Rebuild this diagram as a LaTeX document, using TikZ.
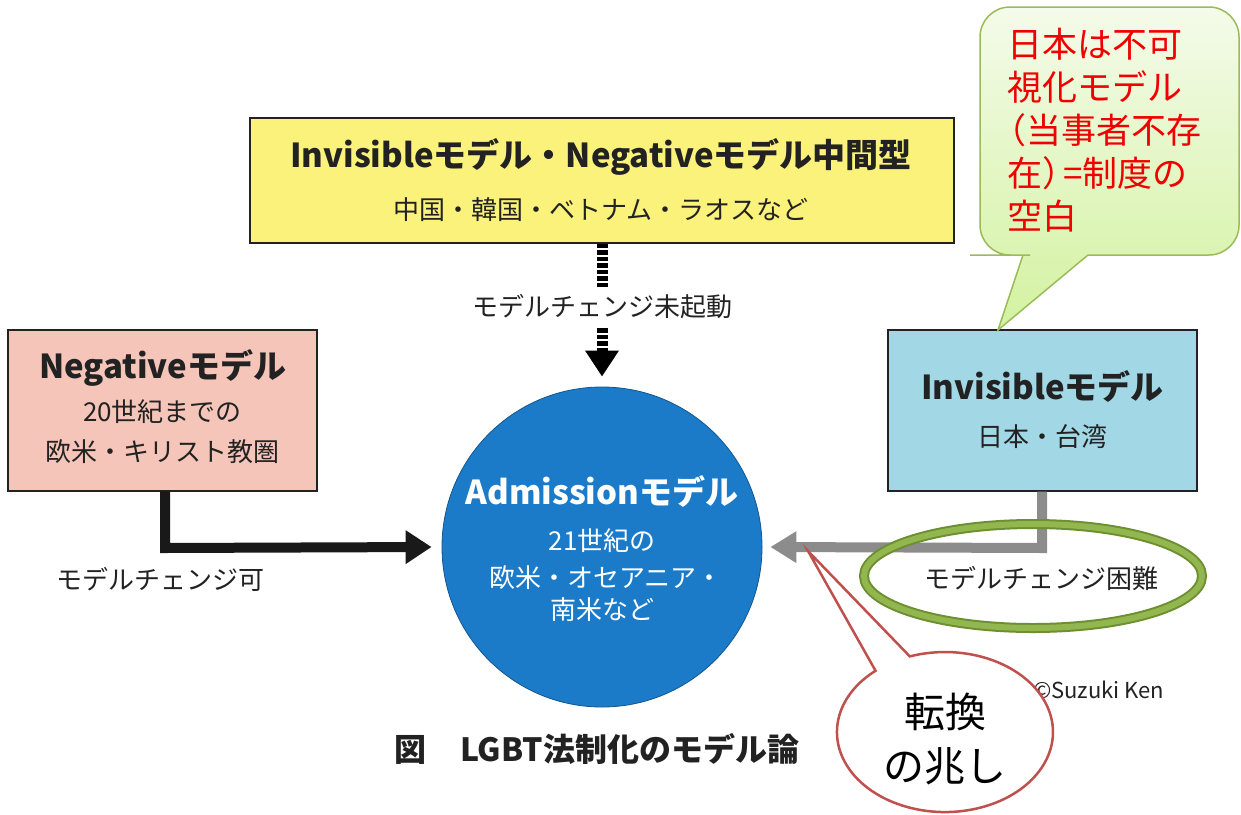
\documentclass[tikz,border=0pt]{standalone}
\usepackage{fontspec}
\setmainfont{Noto Sans CJK JP}
\usetikzlibrary{arrows.meta,calc}
\definecolor{yel}{HTML}{FAF27A}
\definecolor{pnk}{HTML}{F6C5B9}
\definecolor{lblue}{HTML}{A2D8E6}
\definecolor{cblue}{HTML}{1B7BC9}
\definecolor{garrow}{HTML}{8C8C8C}
\definecolor{gring}{HTML}{93B74F}
\definecolor{gringd}{HTML}{6E8E32}
\definecolor{gbord}{HTML}{9BBB59}
\definecolor{gtop}{HTML}{F4FBEA}
\definecolor{gbot}{HTML}{D3F2A0}
\definecolor{rbord}{HTML}{C0504D}
\definecolor{txt}{HTML}{222222}
\definecolor{redtxt}{HTML}{F00000}
\tikzset{
  mbox/.style={draw=txt, line width=1.3pt, inner sep=0pt},
  ttl/.style={font=\fontsize{33}{40}\selectfont\bfseries, text=txt, inner sep=0pt},
  sub/.style={font=\fontsize{26}{32}\selectfont, text=txt, inner sep=0pt},
  lbl/.style={font=\fontsize{26}{32}\selectfont, text=txt, inner sep=0pt},
  wtxt/.style={text=white},
  bigarrow/.style={line width=10pt, -{Triangle[width=32pt,length=26pt]}},
}
\begin{document}
\begin{tikzpicture}[x=1pt,y=-1pt]
\fill[white] (0,0) rectangle (1241,814);
\useasboundingbox (0,0) rectangle (1241,814);

% yellow box
\node[mbox, fill=yel, minimum width=704pt, minimum height=125pt] (yb) at (602,180.5) {};
\node[ttl] (ybt) at (601,157) {Invisibleモデル・Negativeモデル中間型};
\node[sub] (ybs) at (601,210) {中国・韓国・ベトナム・ラオスなど};

% negative box
\node[mbox, fill=pnk, minimum width=309pt, minimum height=161pt] (nb) at (162.5,410.5) {};
\node[ttl] (nbt) at (162.5,368) {Negativeモデル};
\node[sub] (nbs1) at (162.5,412) {20世紀までの};
\node[sub] (nbs2) at (162.5,452) {欧米・キリスト教圏};

% invisible box
\node[mbox, fill=lblue, minimum width=309pt, minimum height=161pt] (ib) at (1042.5,410.5) {};
\node[ttl] (ibt) at (1042.5,386) {Invisibleモデル};
\node[sub] (ibs) at (1042.5,437) {日本・台湾};

% circle
\node[circle, draw=cblue!70!black, line width=0.8pt, fill=cblue, minimum size=320pt, inner sep=0pt] (ad) at (602,547) {};
\node[ttl, wtxt] (adt) at (602,491) {Admissionモデル};
\node[sub, wtxt] (ads1) at (602,541) {21世紀の};
\node[sub, wtxt] (ads2) at (606,578) {欧米・オセアニア・};
\node[sub, wtxt] (ads3) at (602,610) {南米など};

% dashed arrow
\coordinate (dtop) at (yb.south -| ad.north);
\draw[line width=11pt, dash pattern=on 4.5pt off 2pt, -{Triangle[width=32pt,length=26pt]}, shorten >=10pt] (dtop) -- (ad.north);
\node[lbl, fill=white, inner ysep=8pt, inner xsep=2pt] (dlbl) at (602,307) {モデルチェンジ未起動};

% black arrow
\coordinate (bturn) at (165,548);
\draw[bigarrow, black!90] (nb.south -| bturn) -- (bturn) -- ($(ad.west)+(-10,0)$);
\node[lbl] (blbl) at (160,579) {モデルチェンジ可};

% gray arrow
\coordinate (gturn) at (1042,548);
\draw[bigarrow, garrow, -{Triangle[width=30pt,length=26pt]}] (ib.south -| gturn) -- (gturn) -- ($(ad.east)+(8,0)$);

% green ellipse
\draw[gringd, line width=10pt] (1033,576) ellipse [x radius=169, y radius=52];
\draw[gring, line width=6pt] (1033,576) ellipse [x radius=169, y radius=52];
\node[lbl] (glbl) at (1041,578) {モデルチェンジ困難};

% green callout
\path[draw=gbord, line width=1.5pt, top color=gtop, bottom color=gbot]
  (1023,255) -- (998,330) -- (1088,255) -- (1150,255) [rounded corners=30pt]
  -- (1239,255) -- (1239,7) -- (980,7) -- (980,255) -- (1000,255) [sharp corners] -- cycle;
\node[anchor=north west, align=left, text=redtxt, font=\fontsize{35}{43}\selectfont, inner sep=0pt] (gct) at (1007,28)
  {日本は不可\\視化モデル\\\kern-0.45em（当事者不存\\在）\kern-0.4em=制度の\\空白};

% credit (partly covered by the red callout)
\node[font=\fontsize{22}{26}\selectfont, text=txt, anchor=west, inner sep=0pt] (cr) at (1033,690) {©Suzuki Ken};

% red callout
\coordinate (rc) at (945,732);
\draw[rbord, line width=2.5pt, fill=white]
  (808,551) -- (909.8,656.4) arc[start angle=-109, end angle=230, x radius=108, y radius=80] -- cycle;
\node[font=\fontsize{41}{52}\selectfont, align=center, inner sep=0pt] (rct1) at (945,712) {転換};
\node[font=\fontsize{41}{52}\selectfont, align=center, inner sep=0pt] (rct2) at (945,766) {の兆し};

% caption
\node[font=\fontsize{32}{38}\selectfont\bfseries, text=txt, anchor=west, inner sep=0pt] (cap) at (394,749) {図\hspace{34pt}LGBT法制化のモデル論};
\end{tikzpicture}
\end{document}
